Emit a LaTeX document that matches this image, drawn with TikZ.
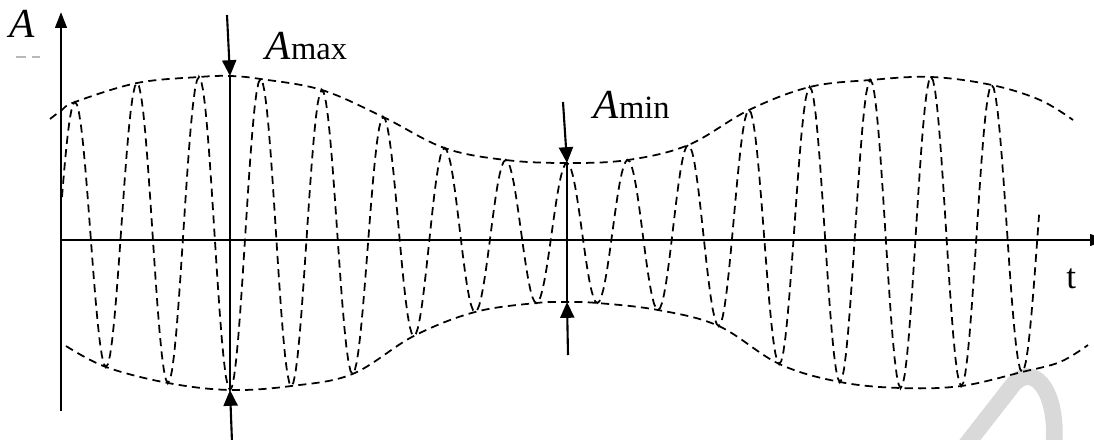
\documentclass[tikz,border=0pt]{standalone}
\usepackage{fontspec}
\setmainfont{Liberation Serif}
\usetikzlibrary{arrows.meta}
\tikzset{
  axisline/.style={line width=1.5pt,-{Triangle[length=9pt,width=6.5pt]}},
  markarrow/.style={line width=1.2pt,-{Triangle[length=9pt,width=8pt]}},
  markline/.style={line width=1.2pt},
  wave/.style={line width=1pt,dash pattern=on 4.6pt off 3pt},
  env/.style={line width=1pt,dash pattern=on 4.6pt off 3pt},
  lbl/.style={inner sep=0pt,anchor=base west},
}
\newcommand{\bigA}{\fontsize{23.5}{26}\selectfont\itshape A}
\newcommand{\subtxt}[1]{\fontsize{18.5}{20}\selectfont\upshape #1}
\begin{document}
\begin{tikzpicture}[x=0.02cm,y=-0.02cm]
\clip (0,0) rectangle (1094,439);
\useasboundingbox (0,0) rectangle (1094,439);
% watermark fragment
\draw[line width=9.5pt,gray!30] (966,445) -- (1012,386) .. controls (1030,362) and (1058,385) .. (1054,445);
% axes
\coordinate (ybot) at (61,411);
\coordinate (ytop) at (61,12);
\coordinate (xl) at (61,240);
\coordinate (xr) at (1106,240);
\draw[axisline] (ybot) -- (ytop);
\draw[axisline] (xl) -- (xr);
\node[lbl] (lA) at (9,38) {\bigA};
\draw[gray!55,line width=0.6pt] (16,57) -- (26,57) (32,57) -- (40,57);
\node[lbl] (lt) at (1066,288) {\fontsize{20}{22}\selectfont t};
% envelopes
\draw[env] plot[smooth,tension=0.6] coordinates {(50,119) (62,110) (75,102) (137,83) (199,77) (230,76) (260.6,79) (321.9,90) (383.2,117) (444.5,148) (505.7,160) (567,163) (627.7,160) (688.3,145) (749,110) (809.7,87) (870.3,80) (931,77) (991.7,85) (1040,100) (1073,120)};
\draw[env] plot[smooth,tension=0.6] coordinates {(66,346) (106,367) (168,383) (230,390) (291.3,386) (352.5,374) (413.8,336) (475.1,312) (536.4,303) (567,302) (597.3,303) (658,310) (718.7,326) (779.3,364) (840,382) (900.7,388) (961.3,386) (1022,372) (1060,362) (1088,345)};
% carrier
\draw[wave] plot[domain=0.58:1,samples=12,variable=\t] ({44+31*\t},{355-253*(1-cos(180*\t))/2})
 \foreach \xa/\ya/\xb/\yb in {75/102/106/367,106/367/137/83,137/83/168/383,168/383/199/77,199/77/230/390,230/390/260.6/79,260.6/79/291.3/386,291.3/386/321.9/90,321.9/90/352.5/374,352.5/374/383.2/117,383.2/117/413.8/336,413.8/336/444.5/148,444.5/148/475.1/312,475.1/312/505.7/160,505.7/160/536.4/303,536.4/303/567/163,567/163/597.3/303,597.3/303/627.7/160,627.7/160/658/310,658/310/688.3/145,688.3/145/718.7/326,718.7/326/749/110,749/110/779.3/364,779.3/364/809.7/87,809.7/87/840/382,840/382/870.3/80,870.3/80/900.7/388,900.7/388/931/77,931/77/961.3/386,961.3/386/991.7/85,991.7/85/1022/372}
 { -- plot[domain=0:1,samples=16,variable=\t] ({\xa+(\xb-\xa)*\t},{\ya+(\yb-\ya)*(1-cos(180*\t))/2}) }
 -- plot[domain=0:0.55,samples=10,variable=\t] ({1022+31*\t},{372-272*(1-cos(180*\t))/2});
% A max
\coordinate (amaxT) at (227,15);
\coordinate (amaxU) at (230,76);
\coordinate (amaxL) at (230,390);
\coordinate (amaxB) at (232,442);
\draw[markarrow] (amaxT) -- (amaxU);
\draw[markline] (amaxU) -- (amaxL);
\draw[markarrow] (amaxB) -- (amaxL);
\node[lbl] (lmax) at (265,60) {\bigA\kern0.3pt\subtxt{max}};
% A min
\coordinate (aminT) at (563,102);
\coordinate (aminU) at (567,163);
\coordinate (aminL) at (567,302);
\coordinate (aminB) at (568,355);
\draw[markarrow] (aminT) -- (aminU);
\draw[markline] (aminU) -- (aminL);
\draw[markarrow] (aminB) -- (aminL);
\node[lbl] (lmin) at (593,118) {\bigA\kern0.3pt\subtxt{min}};
\end{tikzpicture}
\end{document}
